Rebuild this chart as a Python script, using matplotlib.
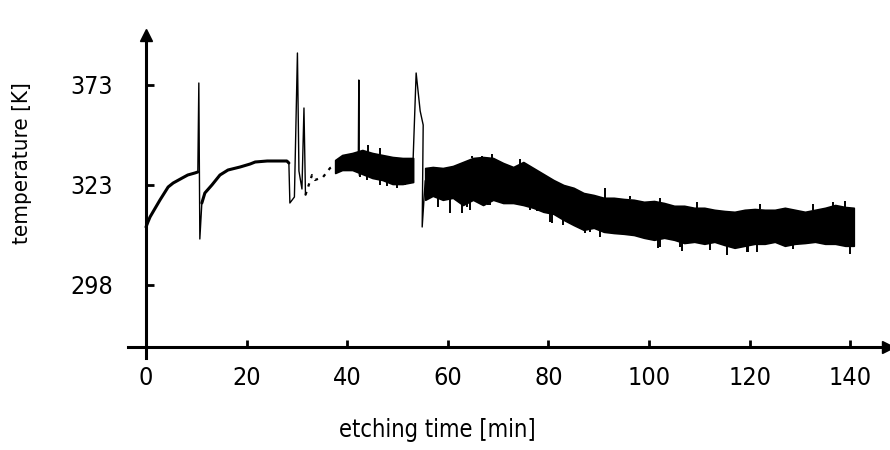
import numpy as np
import matplotlib
matplotlib.use("Agg")
import matplotlib.pyplot as plt

# temperature trace during etching
# smooth start-up parts of the curve
seg1_t = [0.0, 0.4, 0.8, 1.4, 2.8, 4.4, 5.4, 7.2, 8.3, 9.7, 10.3]
seg1_T = [312.5, 313.8, 315.0, 316.3, 319.3, 322.5, 324.0, 326.5, 328.0, 329.0, 329.5]

seg2_t = [11.1, 11.7, 13.1, 14.7, 16.3, 18.7, 20.7, 21.7, 24.1, 28.0, 28.4]
seg2_T = [318.5, 321.0, 323.0, 328.0, 330.5, 332.0, 333.5, 334.5, 335.0, 335.0, 334.0]

# fast pen strokes (spikes)
spike1_t = [10.3, 10.5, 10.7, 11.1]
spike1_T = [329.5, 374.0, 309.5, 318.5]

spike2_t = [28.4, 28.6, 29.5, 30.1, 30.4, 31.0, 31.4, 31.7]
spike2_T = [334.0, 318.5, 320.0, 389.0, 330.0, 322.0, 361.5, 320.5]

# faint broken trace before the noise starts
faint_t = [31.7, 33.0, 33.6, 35.2, 36.6, 37.6]
faint_T = [320.5, 328.0, 325.5, 327.0, 331.5, 333.0]

spike3_t = [42.2, 42.3, 42.4]
spike3_T = [334.0, 375.5, 328.0]

spike4_t = [53.1, 53.7, 54.5, 55.1, 54.9, 55.5]
spike4_T = [336.0, 379.0, 360.0, 353.0, 312.5, 325.0]

# noisy parts, upper and lower envelope of the dense trace
band1_t = [37.6, 39, 41, 43, 45, 47, 49, 51, 53.1]
band1_hi = [335.5, 338.0, 339.0, 340.5, 339.0, 338.0, 337.0, 336.5, 336.5]
band1_lo = [329.0, 330.5, 330.5, 328.5, 326.5, 325.5, 323.5, 323.5, 324.5]

band2_t = [55.5, 57, 59, 61, 63, 65, 67, 69, 71, 73, 75, 77, 79, 81, 83, 85, 87, 89,
           91, 93, 95, 97, 99, 101, 103, 105, 107, 109, 111, 113, 115, 117, 119, 121,
           123, 125, 127, 129, 131, 133, 135, 137, 139, 140.7]
band2_hi = [331.5, 332.0, 331.5, 332.5, 334.5, 336.5, 337.0, 336.5, 334.0, 332.0, 334.5,
            331.5, 328.5, 325.5, 323.0, 322.3, 321.0, 320.5, 319.8, 319.8, 319.5, 319.3,
            318.8, 319.0, 318.5, 317.8, 317.8, 317.3, 317.3, 316.8, 316.5, 316.3, 316.8,
            317.0, 316.8, 316.8, 317.3, 316.8, 316.3, 316.8, 317.3, 318.0, 317.5, 317.3]
band2_lo = [319.3, 320.3, 319.3, 319.8, 318.0, 319.3, 318.0, 319.3, 318.5, 318.5, 318.0,
            317.3, 316.3, 315.8, 314.3, 313.0, 311.8, 312.3, 311.3, 311.0, 310.8, 310.5,
            309.8, 309.3, 309.8, 309.3, 308.5, 308.8, 308.3, 308.8, 308.0, 307.3, 307.8,
            308.3, 308.3, 308.8, 307.8, 308.3, 308.5, 308.8, 308.3, 308.3, 307.8, 307.8]

# single deep dips below the noise band
dip_t = [42.5, 44.0, 46.5, 48.0, 49.9, 51.5, 58.0, 60.4, 62.8, 63.8, 64.4, 68.0, 68.4,
         76.3, 77.7, 80.3, 80.7, 82.9, 84.3, 87.3, 88.3, 90.2, 101.8, 102.2, 106.2,
         106.6, 112.1, 115.5, 119.5, 119.7, 121.5, 128.6, 140.0]
dip_T = [327.0, 325.5, 323.0, 322.8, 322.3, 323.0, 317.5, 316.0, 316.0, 317.5, 316.8,
         318.0, 318.0, 316.8, 316.5, 313.8, 313.5, 313.0, 314.3, 311.0, 311.3, 310.0,
         307.3, 307.5, 307.5, 306.5, 306.8, 305.5, 306.3, 306.3, 306.3, 307.0, 305.8]

# single peaks above the noise band
bump_t = [44.1, 46.5, 64.8, 66.8, 68.8, 74.4, 91.3, 96.2, 102.2, 109.5, 122.1, 132.6,
          136.6, 139.0]
bump_T = [343.0, 341.5, 337.5, 337.5, 338.5, 336.0, 322.3, 320.3, 319.8, 318.8, 318.3,
          318.3, 318.8, 319.0]

x_ticks = [0, 20, 40, 60, 80, 100, 120, 140]
y_ticks = [298, 323, 373]


# the temperature axis of the original is not linear: 298-323 and 323-373 get equal length
def fwd(T):
    T = np.asarray(T, dtype=float)
    return np.where(T < 323, (T - 298) / 25.0, 1 + (T - 323) / 50.0)


def inv(u):
    u = np.asarray(u, dtype=float)
    return np.where(u < 1, 298 + 25.0 * u, 323 + 50.0 * (u - 1))


font = dict(family="DejaVu Sans", stretch="condensed")

fig = plt.figure(figsize=(8.9, 4.5), dpi=100)
ax = fig.add_axes([128 / 890, 1 - 358 / 450, 760 / 890, 323 / 450])
ax.set_yscale("function", functions=(fwd, inv))
ax.set_xlim(-3.58, 147.5)
ax.set_ylim(279.75, 398.0)

k = "black"
ax.plot(seg1_t, seg1_T, color=k, lw=2.2, solid_capstyle="round")
ax.plot(seg2_t, seg2_T, color=k, lw=2.2, solid_capstyle="round")
for st, sT in [(spike1_t, spike1_T), (spike2_t, spike2_T),
               (spike3_t, spike3_T), (spike4_t, spike4_T)]:
    ax.plot(st, sT, color=k, lw=1.0)
ax.plot(faint_t, faint_T, color=k, lw=1.6, linestyle=(0, (1.5, 2.5)))

ax.fill_between(band1_t, band1_lo, band1_hi, color=k, lw=1.2, edgecolor=k)
ax.fill_between(band2_t, band2_lo, band2_hi, color=k, lw=1.2, edgecolor=k)
all_t = band1_t + band2_t
dip_base = np.interp(dip_t, all_t, band1_lo + band2_lo)
ax.vlines(dip_t, dip_T, dip_base, color=k, lw=1.4)
bump_base = np.interp(bump_t, all_t, band1_hi + band2_hi)
ax.vlines(bump_t, bump_base, bump_T, color=k, lw=1.4)

# axes drawn as arrows through the origin like in the scan
for s in ["top", "right"]:
    ax.spines[s].set_visible(False)
ax.spines["left"].set_position(("data", 0))
ax.spines["bottom"].set_position(("data", 282.5))
ax.spines["left"].set_linewidth(2.2)
ax.spines["bottom"].set_linewidth(2.2)
ax.plot([0], [398.0], marker="^", color=k, ms=9, clip_on=False)
ax.plot([147.5], [282.5], marker=">", color=k, ms=9, clip_on=False)

ax.set_xticks(x_ticks)
ax.set_xticklabels([str(v) for v in x_ticks], fontsize=18, **font)
ax.set_yticks(y_ticks)
ax.set_yticklabels([str(v) for v in y_ticks], fontsize=18, **font)
ax.minorticks_off()
ax.tick_params(axis="x", direction="in", length=5, width=2, pad=14)
ax.tick_params(axis="y", direction="in", length=6, width=2, pad=24)

fig.text(437 / 890, 1 - 430 / 450, "etching time [min]", ha="center", va="center",
         fontsize=17, **font)
fig.text(22 / 890, 1 - 163 / 450, "temperature [K]", ha="center", va="center",
         rotation=90, fontsize=16, **font)

fig.savefig("out.png", dpi=100)
